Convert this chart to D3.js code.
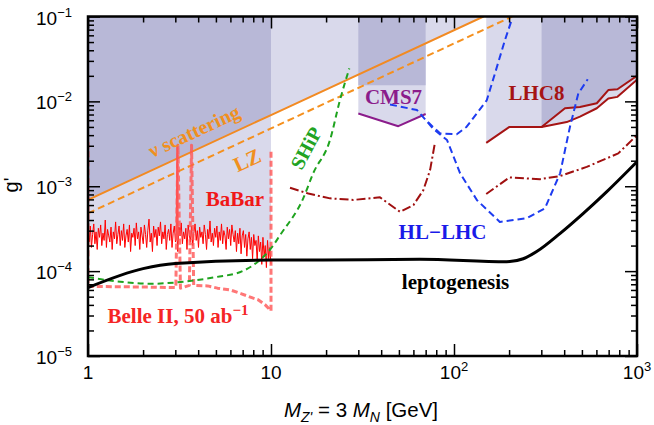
<!DOCTYPE html>
<html><head><meta charset="utf-8">
<script src="https://cdn.jsdelivr.net/npm/d3@7"></script>
<style>body{margin:0;background:#fff}svg text{white-space:pre}</style>
</head><body><svg id="c" width="654" height="425"></svg>
<script>
// ---------------- data ----------------
const xMajorTicks = [1, 10, 100, 1000];
const yMajorTicks = [1e-5, 1e-4, 1e-3, 1e-2, 1e-1];
const xTickLabels = [["1", ""], ["10", ""], ["10", "2"], ["10", "3"]];
const yTickLabels = [["10", "−5"], ["10", "−4"], ["10", "−3"], ["10", "−2"], ["10", "−1"]];

const nuScattering = [[1, 6.9e-4], [10, 6.9e-3], [145, 0.1]];
const lzLine = [[1, 4.8e-4], [10, 4.8e-3], [208, 0.1]];

// BaBar limit, units of 1e-5, sampled evenly in log(M) from 1 to 10 GeV
const babarG = [30,22,34,19,27,36,21,29,18,32, 25,35,20,28,23,40,19,31,26,22,
  33,18,29,24,38,21,27,34,20,30, 23,36,19,26,31,22,35,17,28,25,
  32,20,37,24,29,18,33,26,21,35, 27,19,30,41,22,28,17,34,25,31,
  20,33,26,38,21,29,24,35,18,27, 31,23,36,19,28,34,22,30,17,33,
  26,37,21,29,24,32,18,35,27,22, 34,20,28,36,23,30,19,33,25,29,
  21,35,27,18,31,24,39,22,28,20, 32,25,34,19,29,23,36,21,30,26,
  18,33,24,31,20,35,27,22,30,17, 28,21,32,16,26,30,19,27,15,24,
  29,18,25,14,27,20,23,13,26,17, 22,12,25,15,20,11,23,14,19,12];
const babarSpike = [[3.04, 2.4e-4], [3.07, 3.0e-3], [3.1, 2.4e-4]];

const belle2 = [[1.0, 3.3e-3], [1.0, 6.6e-5], [2.0, 6.5e-5], [3.02, 6.4e-5], [3.1, 3.05e-3], [3.2, 6.3e-5],
  [3.58, 6.8e-5], [3.68, 3.05e-3], [3.78, 6.8e-5], [4.5, 6.7e-5], [5.1, 6.3e-5], [6.0, 6.0e-5],
  [6.9, 5.4e-5], [8.0, 4.8e-5], [8.5, 4.6e-5], [9.3, 4.0e-5], [10, 3.4e-5], [10, 2.7e-3]];

const ship = [[1, 8.5e-5], [1.5, 7.5e-5], [2.2, 7.1e-5], [3.5, 7.6e-5], [5, 8.5e-5], [7, 1.0e-4],
  [8.5, 1.3e-4], [10, 1.85e-4], [11.2, 2.65e-4], [15, 7.2e-4], [17, 1.42e-3], [21, 3.5e-3],
  [23.8, 1.03e-2], [26.8, 2.45e-2]];

const leptogenesis = [[1, 6.4e-5], [2, 1.07e-4], [3, 1.23e-4], [10, 1.35e-4], [18.5, 1.35e-4],
  [65, 1.38e-4], [194, 1.29e-4], [239, 1.4e-4], [283, 1.7e-4], [379, 2.77e-4], [509, 4.8e-4],
  [682, 8.6e-4], [1000, 1.95e-3]];

const cms7 = [[30, 7.2e-3], [49.6, 5.1e-3], [70, 7.1e-3]];
const cms7Upper = [[30, 1.55e-2], [70, 1.55e-2]];

const lhc8Lower = [[150, 3.25e-3], [201, 5.0e-3], [301, 5.0e-3], [413, 5.7e-3], [488, 6.6e-3],
  [603, 8.3e-3], [697, 1.08e-2], [782, 1.13e-2], [1000, 1.8e-2]];
const lhc8Upper = [[301, 5.0e-3], [404, 8.3e-3], [488, 8.6e-3], [603, 9.5e-3], [697, 1.36e-2],
  [782, 1.39e-2], [1000, 2.0e-2]];

const hlLhcA = [[72, 5.7e-3], [83.8, 4.2e-3], [103.5, 4.1e-3], [117, 5.0e-3], [151, 1.03e-2],
  [167.5, 2.14e-2], [190, 5.3e-2], [208, 9.5e-2]];
const hlLhcB = [[44.7, 9.2e-3], [62.8, 7.9e-3], [76.7, 4.8e-3], [91.6, 3.5e-3], [108, 1.42e-3],
  [133.6, 6.85e-4], [178, 3.8e-4], [250, 4.2e-4], [314, 5.5e-4], [380, 1.42e-3], [430, 5.0e-3],
  [478, 1.24e-2], [538, 1.82e-2]];

const dashDotLow = [[12.7, 9.6e-4], [16, 8.2e-4], [21, 7.2e-4], [28.2, 6.9e-4], [39.4, 7.4e-4],
  [50.7, 5.0e-4], [60, 6.0e-4], [68, 9.0e-4], [74, 1.55e-3], [78.7, 3.27e-3]];
const dashDotHigh = [[150, 8.1e-4], [201, 1.27e-3], [295, 1.21e-3], [380, 1.32e-3], [531, 1.69e-3],
  [683, 2.13e-3], [790, 2.44e-3], [1000, 4.0e-3]];

// ---------------- drawing ----------------
const L = 88, R = 637, T = 16.5, B = 356;
const svg = d3.select("#c");
const x = d3.scaleLog().domain([1, 1000]).range([L, R]);
const y = d3.scaleLog().domain([1e-5, 1e-1]).range([B, T]);

svg.append("defs").append("clipPath").attr("id", "clip")
  .append("rect").attr("x", L).attr("y", T).attr("width", R - L).attr("height", B - T);
const g = svg.append("g").attr("clip-path", "url(#clip)");

const LIGHT = "#d9d9eb", DARK = "#b8b8d7";
const area = d3.area().x(d => x(d[0])).y0(y(0.1) - 5).y1(d => y(d[1]));
const line = d3.line().x(d => x(d[0])).y(d => y(d[1]));

const babarPts = babarG.map((v, i) => [Math.pow(10, i / (babarG.length - 1)), v * 1e-5]);

// shaded regions (light first, then dark)
g.append("path").attr("d", area(nuScattering)).attr("fill", LIGHT);
g.append("path").attr("d", area(babarPts)).attr("fill", LIGHT);
g.append("path").attr("d", area(cms7)).attr("fill", LIGHT);
g.append("path").attr("d", area(lhc8Lower)).attr("fill", LIGHT);
g.append("path").attr("d", area(nuScattering.slice(0, 2))).attr("fill", DARK);
g.append("path").attr("d", area(cms7Upper)).attr("fill", DARK);
g.append("path").attr("d", area(lhc8Upper)).attr("fill", DARK);

function draw(data, color, width, dash, curve, opacity) {
  g.append("path").attr("d", line.curve(curve || d3.curveLinear)(data))
    .attr("fill", "none").attr("stroke", color).attr("stroke-width", width)
    .attr("stroke-dasharray", dash || null).attr("stroke-opacity", opacity || 1)
    .attr("stroke-linejoin", "round");
}

draw(nuScattering, "#f28a22", 2);
draw(lzLine, "#f5901e", 2, "7,4");
draw(babarPts, "#ff0000", 1);
draw(babarSpike, "#ff5050", 1.5);
draw(belle2, "#ff5555", 3, "6,3", null, 0.8);
draw(ship, "#1fa31f", 2, "6,4", d3.curveMonotoneX);
draw(leptogenesis, "#000000", 3, null, d3.curveMonotoneX);
draw(cms7, "#8b1c8b", 2);
draw(lhc8Lower, "#a51414", 2);
draw(lhc8Upper, "#a51414", 2);
draw(hlLhcA, "#1e3cf0", 2, "7,4");
draw(hlLhcB, "#1e3cf0", 2, "7,4");
draw(dashDotLow, "#a01010", 2, "9,3,2,3");
draw(dashDotHigh, "#a01010", 2, "9,3,2,3");

// labels
const lbl = svg.append("g").attr("font-family", "'Liberation Serif','Times New Roman',serif")
  .attr("font-weight", "bold").attr("text-anchor", "middle");
function label(txt, cx, cy, color, size, rot) {
  return lbl.append("text").attr("transform", `translate(${cx},${cy}) rotate(${rot || 0})`)
    .attr("dy", "0.35em").attr("fill", color).attr("font-size", size).text(txt);
}
label("ν scattering", 194, 131, "#f0901e", 20, -24.8);
label("LZ", 247, 160, "#f0901e", 21, -24.8);
label("SHiP", 306, 148, "#22a322", 20, -62);
label("BaBar", 235, 199, "#f01818", 21);
label("CMS7", 393.5, 96.5, "#8b1c8b", 21);
label("LHC8", 536.5, 92.5, "#a51414", 21);
label("HL−LHC", 442.5, 231.5, "#1a1ae8", 21);
label("leptogenesis", 455.5, 282, "#000", 21);
const belle = lbl.append("text").attr("x", 178).attr("y", 323).attr("fill", "#f52525").attr("font-size", 21);
belle.append("tspan").text("Belle II, 50 ab");
belle.append("tspan").attr("dy", -8).attr("font-size", 15).text("−1");

// axes (ticks inward on all four sides)
const minors = [];
[1, 10, 100].forEach(d => { for (let k = 2; k < 10; k++) minors.push(d * k); });
const yMinors = [];
[1e-5, 1e-4, 1e-3, 1e-2].forEach(d => { for (let k = 2; k < 10; k++) yMinors.push(d * k); });

function ax(gen, scale, vals, size, tr) {
  const a = svg.append("g").attr("transform", tr)
    .call(gen(scale).tickValues(vals).tickSize(size).tickFormat(""));
  a.select(".domain").remove();
  a.selectAll("line").attr("stroke", "#000").attr("stroke-width", size > 8 ? 2 : 1.5);
}
ax(d3.axisBottom, x, xMajorTicks, -12, `translate(0,${B})`);
ax(d3.axisBottom, x, minors, -6, `translate(0,${B})`);
ax(d3.axisTop, x, xMajorTicks, -12, `translate(0,${T})`);
ax(d3.axisTop, x, minors, -6, `translate(0,${T})`);
ax(d3.axisLeft, y, yMajorTicks, -12, `translate(${L},0)`);
ax(d3.axisLeft, y, yMinors, -6, `translate(${L},0)`);
ax(d3.axisRight, y, yMajorTicks, -12, `translate(${R},0)`);
ax(d3.axisRight, y, yMinors, -6, `translate(${R},0)`);

svg.append("rect").attr("x", L).attr("y", T).attr("width", R - L).attr("height", B - T)
  .attr("fill", "none").attr("stroke", "#000").attr("stroke-width", 2.5);

const tl = svg.append("g").attr("font-family", "'Liberation Sans',Arial,sans-serif").attr("font-size", 19).attr("fill", "#000");
xMajorTicks.forEach((v, i) => {
  const t = tl.append("text").attr("x", x(v)).attr("y", 379).attr("text-anchor", "middle");
  t.append("tspan").text(xTickLabels[i][0]);
  if (xTickLabels[i][1]) t.append("tspan").attr("dy", -8).attr("font-size", 13).text(xTickLabels[i][1]);
});
yMajorTicks.forEach((v, i) => {
  const t = tl.append("text").attr("x", 72).attr("y", y(v) + 8).attr("text-anchor", "end");
  t.append("tspan").text(yTickLabels[i][0]);
  t.append("tspan").attr("dy", -8).attr("font-size", 13).text(yTickLabels[i][1]);
});

// axis titles
const xt = tl.append("text").attr("x", 361).attr("y", 417).attr("text-anchor", "middle").attr("font-size", 20.5);
xt.append("tspan").attr("font-style", "italic").text("M");
xt.append("tspan").attr("font-style", "italic").attr("font-size", 14).attr("dy", 5).text("Z'");
xt.append("tspan").attr("dy", -5).text(" = 3 ");
xt.append("tspan").attr("font-style", "italic").text("M");
xt.append("tspan").attr("font-style", "italic").attr("font-size", 14).attr("dy", 5).text("N");
xt.append("tspan").attr("dy", -5).text(" [GeV]");

tl.append("text").attr("transform", "translate(18,185) rotate(-90)").attr("text-anchor", "middle").attr("font-size", 20).text("g'");
</script></body></html>
